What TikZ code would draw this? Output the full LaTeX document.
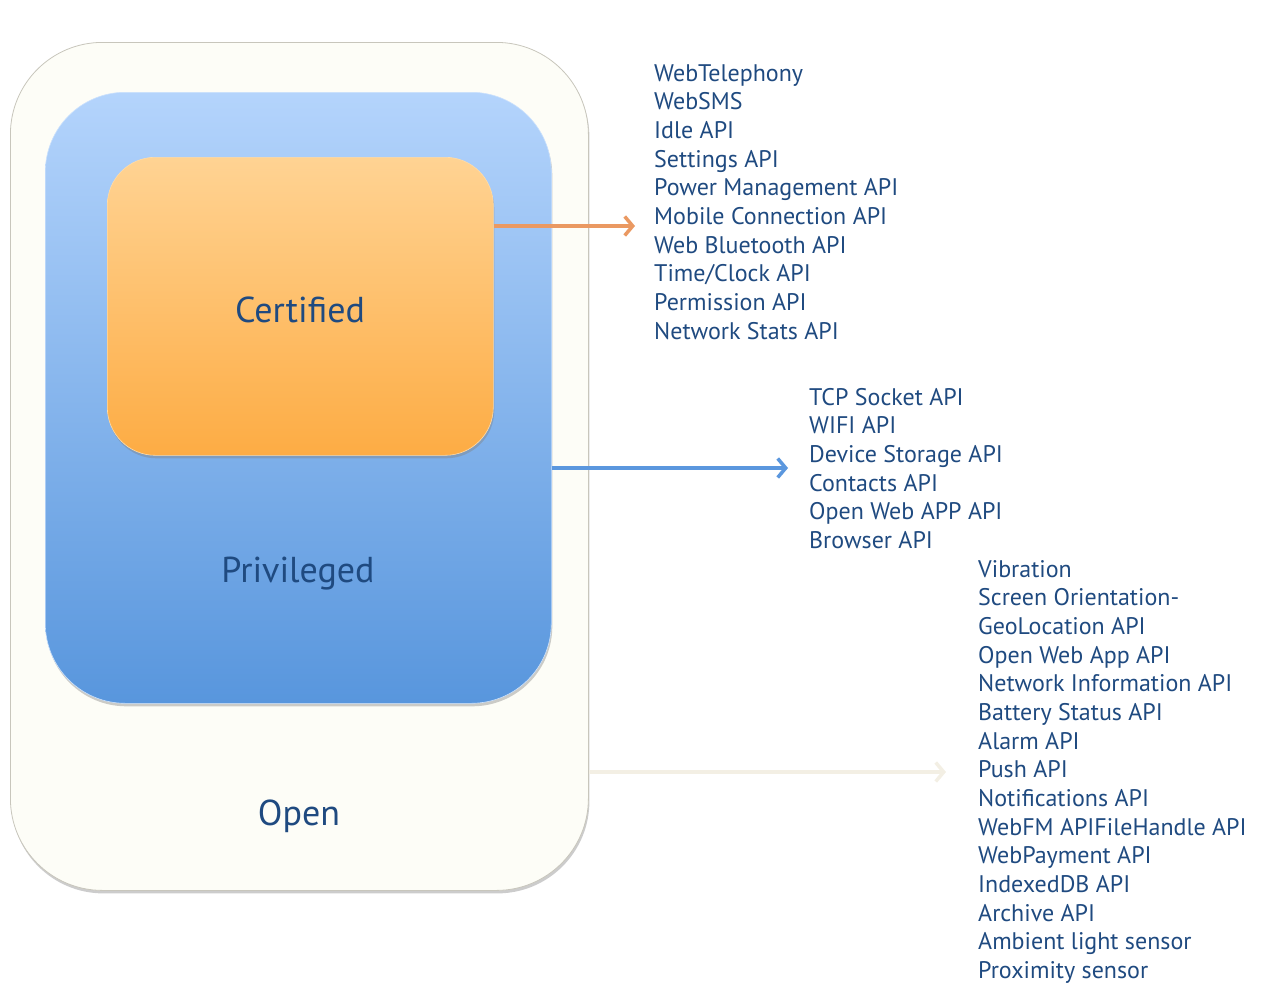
\documentclass[tikz,border=0pt]{standalone}
\usepackage{fontspec}
\setmainfont{PT Sans}
\usetikzlibrary{arrows.meta,shadows}
\definecolor{txt}{HTML}{1F4A80}
\definecolor{ivory}{HTML}{FDFDF7}
\definecolor{ivoryline}{HTML}{C8C6BC}
\definecolor{bluetop}{HTML}{B4D4FC}
\definecolor{bluebot}{HTML}{5896DD}
\definecolor{orgtop}{HTML}{FFD393}
\definecolor{orgbot}{HTML}{FDAC44}
\definecolor{orgarrow}{HTML}{EA9962}
\definecolor{bluearrow}{HTML}{5B97DE}
\definecolor{ivarrow}{HTML}{F3EFE4}
\tikzset{
  box/.style={rectangle, anchor=north west, inner sep=0pt, drop shadow={shadow xshift=1pt, shadow yshift=-3pt, opacity=0.4}},
  biglabel/.style={text=txt, font=\fontsize{36}{42}\selectfont},
  apilist/.style={anchor=north west, align=left, inner sep=0pt, text=txt, font=\fontsize{24}{28.67}\selectfont},
  conn/.style={line width=3.5pt, -{Straight Barb[length=8pt,width=19pt,line width=3.5pt]}},
}
\begin{document}
\begin{tikzpicture}[x=1pt,y=-1pt]
\useasboundingbox (0,0) rectangle (1288,993);
% boxes
\node[box, draw=ivoryline, line width=0.8pt, fill=ivory, rounded corners=92pt, minimum width=578pt, minimum height=848pt] (open) at (10,42) {};
\node[box, draw=bluetop!70!white, line width=0.6pt, top color=bluetop, bottom color=bluebot, rounded corners=80pt, minimum width=506pt, minimum height=611pt] (priv) at (45,92) {};
\node[box, draw=orgtop!80!white, line width=0.6pt, top color=orgtop, bottom color=orgbot, rounded corners=48pt, minimum width=386pt, minimum height=298pt] (cert) at (107,157) {};
% labels
\node[biglabel] (certl) at (300,310) {Certified};
\node[biglabel] (privl) at (298,574) {Privileged};
\node[biglabel] (openl) at (299,816) {Open};
% lists
\node[apilist] (l1) at (654,64) {WebTelephony\\WebSMS\\Idle API\\Settings API\\Power Management API\\Mobile Connection API\\Web Bluetooth API\\Time/Clock API\\Permission API\\Network Stats API};
\node[apilist] (l2) at (809,388) {TCP Socket API\\WIFI API\\Device Storage API\\Contacts API\\Open Web APP API\\Browser API};
\node[apilist] (l3) at (978,560) {Vibration\\Screen Orientation-\\GeoLocation API\\Open Web App API\\Network Information API\\Battery Status API\\Alarm API\\Push API\\Notifications API\\WebFM APIFileHandle API\\WebPayment API\\IndexedDB API\\Archive API\\Ambient light sensor\\Proximity sensor};
% arrow ends
\coordinate (e1) at (635,226);
\coordinate (e2) at (788,468);
\coordinate (e3) at (946,772);
\draw[conn, orgarrow] (cert.east |- e1) -- (e1);
\draw[conn, bluearrow] (priv.east |- e2) -- (e2);
\draw[conn, ivarrow] (open.east |- e3) -- (e3);
\end{tikzpicture}
\end{document}
